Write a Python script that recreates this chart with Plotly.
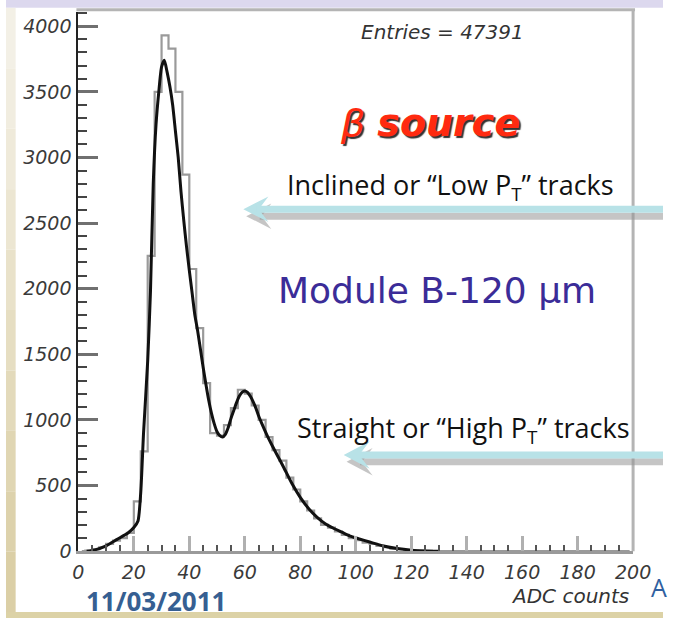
import plotly.graph_objects as go

W, H = 681, 629

# ---------------- data ----------------
# histogram of ADC counts, 2.5-count bins starting at 0
bin_width = 2.5
hist_counts = [0, 5, 15, 30, 55, 80, 100, 140, 380, 760,
               2250, 3500, 3930, 3830, 3500, 2870, 2150, 1700, 1280, 900,
               880, 960, 1090, 1230, 1200, 1110, 1000, 870, 770, 690,
               560, 470, 380, 310, 250, 200, 180, 150, 125, 100,
               85, 65, 55, 40, 30, 20, 15, 10, 6, 4,
               2, 1, 0, 0, 0, 0, 0, 0, 0, 0,
               0, 0, 0, 0, 0, 0, 0, 0, 0, 0,
               0, 0, 0, 0, 0, 0, 0, 0, 0, 0]
bin_centers = [bin_width * (i + 0.5) for i in range(len(hist_counts))]

# fitted curve
fit_x = [3, 6, 10, 14, 18, 20, 21.5, 22.5, 23.5, 25, 26, 27, 28, 29, 30, 31, 32, 33, 34, 35,
         36, 37, 38, 39, 40, 41, 42, 43, 44, 45, 46, 47, 48, 49, 50, 51, 52, 53, 54, 55,
         56, 57, 58, 59, 60, 61, 62, 63, 64, 65, 66, 68, 70, 72, 74, 77, 80, 83, 86, 89,
         92, 95, 98, 101, 105, 110, 115, 120, 125, 130]
fit_y = [0, 10, 40, 90, 140, 180, 230, 450, 900, 1450, 1980, 2800, 3250, 3500, 3690, 3740, 3650, 3540, 3400, 3200,
         3000, 2740, 2520, 2320, 2140, 1970, 1800, 1680, 1540, 1400, 1270, 1150, 1050, 970, 910, 880, 870, 890, 940, 1010,
         1070, 1130, 1180, 1210, 1220, 1210, 1180, 1140, 1090, 1030, 980, 885, 800, 720, 640, 515, 410, 325, 260, 210,
         175, 145, 115, 95, 70, 40, 20, 8, 2, 0]

x_ticks = [0, 20, 40, 60, 80, 100, 120, 140, 160, 180, 200]
y_ticks = [0, 500, 1000, 1500, 2000, 2500, 3000, 3500, 4000]

# ---------------- helpers ----------------
def px(x):
    return x / W

def py(y):
    return 1 - y / H

X0, X1 = 75, 650
Y0, Y1 = 561, 12

fig = go.Figure()

fig.add_trace(go.Scatter(x=bin_centers, y=hist_counts, mode="lines",
                         line=dict(shape="hvh", color="#9a9a9a", width=2.2),
                         hoverinfo="skip", showlegend=False))
fig.add_trace(go.Scatter(x=fit_x, y=fit_y, mode="lines",
                         line=dict(shape="spline", smoothing=0.6, color="#111111", width=3),
                         hoverinfo="skip", showlegend=False))

tickfont = dict(family="DejaVu Sans", size=19, color="#3a3a3a", style="italic")

fig.update_layout(
    width=W, height=H,
    margin=dict(l=0, r=0, t=0, b=0),
    paper_bgcolor="white", plot_bgcolor="white",
    showlegend=False,
    xaxis=dict(domain=[px(X0), px(X1)], range=[0, 200], showgrid=False, zeroline=False,
               showline=True, linecolor="#9a9a9a", linewidth=3,
               ticks="inside", ticklen=15, tickwidth=3, tickcolor="#b0b0b0",
               tickvals=x_ticks, ticktext=[str(v) for v in x_ticks], tickfont=tickfont,
               ticklabelstandoff=2,
               minor=dict(ticks="inside", ticklen=6, tickwidth=2, tickcolor="#555555", dtick=5, tick0=0)),
    yaxis=dict(domain=[py(Y0), py(Y1)], range=[0, 4110], showgrid=False, zeroline=False,
               showline=True, linecolor="#222222", linewidth=2,
               ticks="inside", ticklen=20, tickwidth=3, tickcolor="#707070",
               tickvals=y_ticks, ticktext=[str(v) for v in y_ticks], tickfont=tickfont,
               ticklabelstandoff=1,
               minor=dict(ticks="inside", ticklen=9, tickwidth=2, tickcolor="#444444", dtick=100, tick0=0)),
)

shapes = []
# slide decorations
shapes.append(dict(type="rect", xref="paper", yref="paper", x0=0, x1=1, y0=py(8), y1=1,
                   fillcolor="#dcd8ee", line=dict(width=0), layer="above"))
shapes.append(dict(type="rect", xref="paper", yref="paper", x0=0, x1=1, y0=0, y1=py(623),
                   fillcolor="#dcd2a6", line=dict(width=0), layer="above"))
left_cols = ["#f3f0e6", "#f1ede0", "#efeada", "#ece6d2", "#e9e2ca", "#e6dec2", "#e3dabb", "#e0d6b3", "#ddd2ac", "#dbcfa6"]
n = len(left_cols)
for i, c in enumerate(left_cols):
    shapes.append(dict(type="rect", xref="paper", yref="paper", x0=0, x1=px(10),
                       y0=py(8 + (i + 1) * (615 / n)), y1=py(8 + i * (615 / n)),
                       fillcolor=c, line=dict(width=0), layer="above"))
# frame top / right
shapes.append(dict(type="line", xref="paper", yref="paper", x0=px(73), x1=px(652), y0=py(10), y1=py(10),
                   line=dict(color="#b4b4b4", width=3), layer="above"))
shapes.append(dict(type="line", xref="paper", yref="paper", x0=px(650), x1=px(650), y0=py(10), y1=py(561),
                   line=dict(color="#b4b4b4", width=3), layer="above"))

# arrows
def arrow(tip_x, tip_y, back_x, half_h, notch_x, shaft_w):
    out = []
    for dx, dy, col in [(3, 7, "rgba(150,150,150,0.55)"), (0, 0, "#b8e2e7")]:
        tx, ty = tip_x + dx, tip_y + dy
        path = (f"M {px(tx)} {py(ty)} L {px(back_x + dx)} {py(ty - half_h)} "
                f"L {px(notch_x + dx)} {py(ty)} L {px(back_x + dx)} {py(ty + half_h)} Z")
        out.append(dict(type="path", xref="paper", yref="paper", path=path,
                        fillcolor=col, line=dict(width=0), layer="above"))
        out.append(dict(type="line", xref="paper", yref="paper", x0=px(notch_x - 2 + dx), x1=1,
                        y0=py(ty), y1=py(ty), line=dict(color=col, width=shaft_w), layer="above"))
    return out

shapes += arrow(246, 213, 272, 13, 262, 7)
shapes += arrow(350, 463, 377, 14, 366, 7)

fig.update_layout(shapes=shapes)

ann = []
def text(x, y, s, size, color, family="DejaVu Sans", xanchor="center", weight="normal", style="normal", shadow="none"):
    ann.append(dict(x=px(x), y=py(y), xref="paper", yref="paper", text=s, showarrow=False,
                    xanchor=xanchor, yanchor="middle",
                    font=dict(family=family, size=size, color=color, weight=weight, style=style, shadow=shadow)))

text(452, 33, "Entries = 47391", 20, "#333333", style="italic")
text(439, 125, "β <b>source</b>", 38, "#ff2a10", style="italic", shadow="2px 2px 1px #333333")
text(461, 190, "Inclined or “Low P<sub>T</sub>” tracks", 27, "#111111", family="Open Sans")
text(447, 296, "Module B-120 μm", 36, "#3b2c98", family="DejaVu Sans")
text(474, 437, "Straight or “High P<sub>T</sub>” tracks", 27, "#111111", family="Open Sans")
text(648, 607, "ADC counts", 20, "#333333", xanchor="right", style="italic")
text(155, 612, "11/03/2011", 26, "#365f92", family="Open Sans", weight="bold")
text(666, 597, "A", 25, "#3060a0", family="Open Sans", xanchor="left")

fig.update_layout(annotations=ann)

fig.write_html("out.html")
